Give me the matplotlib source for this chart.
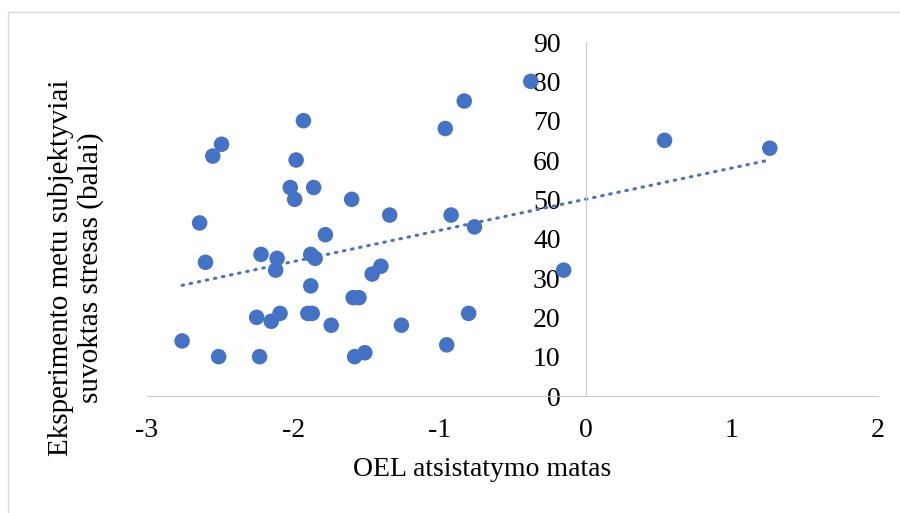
import numpy as np
import matplotlib
matplotlib.use("Agg")
import matplotlib.pyplot as plt
from matplotlib.patches import Rectangle

plt.rcParams['font.family'] = ['Liberation Serif', 'DejaVu Serif']

# OEL atsistatymo matas vs. subjektyviai suvoktas stresas
oel = [-2.76, -2.51, -2.23, -2.64, -2.60, -2.55, -2.49, -1.93, -1.98, -2.02, -1.99,
       -1.86, -1.60, -1.34, -1.78, -2.22, -2.11, -2.12, -1.88, -1.85, -1.88, -1.40,
       -1.46, -1.59, -1.55, -2.25, -2.15, -2.09, -1.90, -1.87, -1.74, -1.26, -1.58,
       -1.51, -0.96, -0.83, -0.375, -0.92, -0.76, -0.15, -0.80, -0.95, 0.54, 1.26]
stresas = [14, 10, 10, 44, 34, 61, 64, 70, 60, 53, 50,
           53, 50, 46, 41, 36, 35, 32, 36, 35, 28, 33,
           31, 25, 25, 20, 19, 21, 21, 21, 18, 18, 10,
           11, 68, 75, 80, 46, 43, 32, 21, 13, 65, 63]
xticks = [-3, -2, -1, 0, 1, 2]
yticks = list(range(0, 91, 10))

blue = '#4472C4'
gray = '#C9C9C9'

fig = plt.figure(figsize=(9, 5.13), dpi=100)
ax = fig.add_axes([147/900, 117/513, 731/900, 354/513])

ax.scatter(oel, stresas, s=125, color=blue, edgecolors='none', zorder=3)

# tiesinė tendencijos linija
k, b = np.polyfit(oel, stresas, 1)
xs = np.array([min(oel), max(oel)])
ax.plot(xs, k*xs + b, color=blue, lw=2.2, linestyle=(0, (0.5, 2.2)),
        dash_capstyle='round', zorder=2)

ax.set_xlim(-3, 2)
ax.set_ylim(0, 90)
ax.set_xticks(xticks)
ax.set_xticklabels([str(t) for t in xticks])
ax.set_yticks(yticks)
ax.spines['left'].set_position(('data', 0))
ax.spines['left'].set_color(gray)
ax.spines['bottom'].set_color(gray)
ax.spines['top'].set_visible(False)
ax.spines['right'].set_visible(False)
ax.tick_params(axis='both', length=0, labelsize=20)
ax.tick_params(axis='y', pad=18)
ax.tick_params(axis='x', pad=16)
ax.patch.set_alpha(0)

fig.text(482/900, 1 - 470/513, 'OEL atsistatymo matas', ha='center', va='center', fontsize=20)
fig.text(61/900, 1 - 268/513, 'Eksperimento metu subjektyviai', rotation=90,
         ha='center', va='center', fontsize=21)
fig.text(91/900, 1 - 268/513, 'suvoktas stresas (balai)', rotation=90,
         ha='center', va='center', fontsize=21)

fig.patches.append(Rectangle((8/900, -0.1), 1.2, 1 - 12/513 + 0.1, transform=fig.transFigure,
                             fill=False, edgecolor='#D9D9D9', lw=1))

fig.savefig('out.png', dpi=100)
